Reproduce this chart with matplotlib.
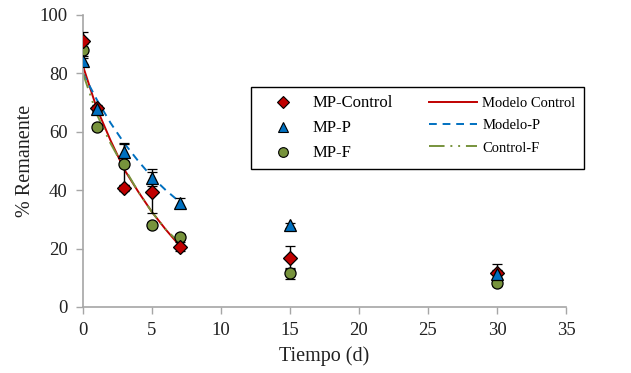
import matplotlib
matplotlib.use("Agg")
import matplotlib.pyplot as plt
from matplotlib.lines import Line2D

# measured points
t_obs = [0, 1, 3, 5, 7, 15, 30]
mp_control = [91.0, 68.0, 40.6, 39.2, 20.7, 16.9, 11.8]
mp_control_err = [3.0, 1.0, 1.0, 7.0, 1.5, 4.0, 3.0]
mp_p = [84.3, 67.8, 53.0, 44.3, 35.5, 27.9, 11.2]
mp_p_err = [1.0, 1.0, 3.0, 3.0, 1.7, 1.0, 1.5]
mp_f = [88.0, 61.7, 48.9, 28.1, 24.1, 11.5, 8.3]
mp_f_err = [2.0, 1.0, 7.0, 1.0, 1.0, 2.0, 1.0]

# model curves
t_mod = [0, 1, 2, 3, 4, 5, 6, 7]
modelo_control = [82.5, 68.0, 57.0, 47.0, 39.5, 32.5, 26.5, 21.0]
modelo_p = [80.0, 71.0, 63.0, 56.0, 50.0, 44.5, 40.0, 36.0]
control_f = [80.0, 66.0, 56.0, 47.5, 39.5, 32.5, 26.5, 22.0]

C_RED = "#C00000"
C_BLUE = "#0070C0"
C_GREEN = "#77933C"
C_AXIS = "#A6A6A6"
C_TEXT = "#222222"

plt.rcParams["font.family"] = ["Liberation Serif", "DejaVu Serif"]

fig = plt.figure(figsize=(6.31, 3.73), dpi=100)
ax = fig.add_axes([0.1315, 0.177, 0.7655, 0.783])

ax.plot(t_mod, modelo_control, color=C_RED, lw=1.4, zorder=2)
ax.plot(t_mod, modelo_p, color=C_BLUE, lw=1.4, ls=(0, (4, 3)), zorder=2)
ax.plot(t_mod, control_f, color=C_GREEN, lw=1.4, ls=(0, (8, 3, 1, 3, 1, 3)), zorder=2)

err_kw = dict(ecolor="black", elinewidth=1.0, capsize=3.5, capthick=1.0, ls="none",
              markeredgecolor="black", markeredgewidth=0.9, zorder=3)
ax.errorbar(t_obs, mp_f, yerr=mp_f_err, marker="o", ms=8, color=C_GREEN, **err_kw)
ax.errorbar(t_obs, mp_control, yerr=mp_control_err, marker="D", ms=7, color=C_RED, **err_kw)
ax.errorbar(t_obs, mp_p, yerr=mp_p_err, marker="^", ms=8.5, color=C_BLUE, **err_kw)

ax.set_xlim(0, 35)
ax.set_ylim(0, 100)
ax.set_xticks(range(0, 36, 5))
ax.set_yticks(range(0, 101, 20))
for s in ["top", "right"]:
    ax.spines[s].set_visible(False)
for s in ["left", "bottom"]:
    ax.spines[s].set_color(C_AXIS)
    ax.spines[s].set_linewidth(1.2)
ax.tick_params(axis="both", colors=C_AXIS, labelcolor=C_TEXT, labelsize=13.5,
               length=5, width=1.0, direction="out", pad=6)
ax.set_xlabel("Tiempo (d)", fontsize=14.5, color=C_TEXT, labelpad=5)
ax.set_ylabel("% Remanente", fontsize=14.5, color=C_TEXT, labelpad=3)

handles = [
    Line2D([], [], ls="none", marker="D", ms=6, color=C_RED, mec="black", mew=0.8),
    Line2D([], [], ls="none", marker="^", ms=7, color=C_BLUE, mec="black", mew=0.8),
    Line2D([], [], ls="none", marker="o", ms=7, color=C_GREEN, mec="black", mew=0.8),
    Line2D([], [], color=C_RED, lw=1.4),
    Line2D([], [], color=C_BLUE, lw=1.4, ls=(0, (4, 3))),
    Line2D([], [], color=C_GREEN, lw=1.4, ls=(0, (8, 3, 1, 3, 1, 3))),
]
labels = ["MP-Control", "MP-P", "MP-F", "Modelo Control", "Modelo-P", "Control-F"]
leg = ax.legend(handles, labels, ncol=2, loc="upper left",
                bbox_to_anchor=(0.348, 0.753), borderaxespad=0, frameon=True,
                fancybox=False, edgecolor="black", framealpha=1,
                handlelength=3.3, columnspacing=2.5, handletextpad=0.35,
                labelspacing=0.62, borderpad=0.55, fontsize=10.5)
leg.get_frame().set_linewidth(1.0)
for txt in leg.get_texts()[:3]:
    txt.set_fontsize(12)

fig.savefig("out.png", dpi=100, facecolor="white")
